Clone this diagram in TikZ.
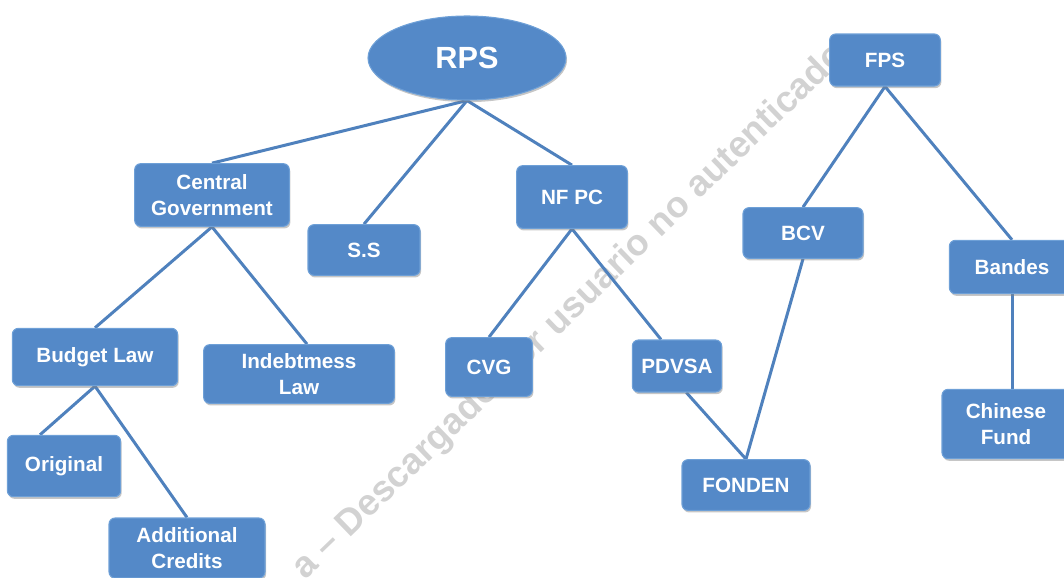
\documentclass[tikz,border=0pt]{standalone}
\usepackage{fontspec}
\setmainfont{Liberation Sans}
\usepackage{tikz}
\usetikzlibrary{shadows, shapes.geometric, backgrounds}
\definecolor{boxblue}{RGB}{84, 137, 200}
\definecolor{boxedge}{RGB}{110, 160, 215}
\definecolor{linkblue}{RGB}{79, 129, 189}
\definecolor{stamp}{RGB}{210, 210, 210}

\begin{document}
\begin{tikzpicture}[x=0.75pt, y=-0.75pt,
    unit/.style={draw=boxedge, fill=boxblue, rounded corners=4.5pt, line width=0.8pt,
      text=white, font=\fontsize{15.5}{19.5}\selectfont\bfseries, align=center,
      inner sep=0pt, drop shadow={shadow xshift=0.8pt, shadow yshift=-1.6pt, opacity=0.45}},
    link/.style={linkblue, line width=2.25pt}]
      \useasboundingbox (0,0) rectangle (1064,578);
      % Watermark behind the chart
      \begin{pgfonlayer}{background}
        \node[stamp, rotate=44, font=\fontsize{27.5}{33}\selectfont\bfseries] (mark) at (570,312)
          {a -- Descargado por usuario no autenticado};
      \end{pgfonlayer}
      % Root of the tree
      \node[ellipse, draw=boxedge, fill=boxblue, line width=0.8pt, text=white,
        font=\fontsize{23}{28}\selectfont\bfseries, minimum width=148.5pt, minimum height=63pt,
        drop shadow={shadow xshift=0.8pt, shadow yshift=-1.6pt, opacity=0.45}] (rps) at (467,58) {RPS};
      % Second level
      \node[unit, minimum width=116pt, minimum height=47pt] (cg) at (212,195) {Central\\Government};
      \node[unit, minimum width=84pt, minimum height=38pt] (ss) at (364,250) {S.S};
      \node[unit, minimum width=83pt, minimum height=47pt] (nfpc) at (572,197) {NF PC};
      % Under Central Government
      \node[unit, minimum width=124pt, minimum height=43pt] (budget) at (95,357) {Budget Law};
      \node[unit, minimum width=143pt, minimum height=44pt] (debt) at (299,374) {Indebtmess\\Law};
      \node[unit, minimum width=85pt, minimum height=46pt] (orig) at (64,466) {Original};
      \node[unit, minimum width=117pt, minimum height=45pt] (addc) at (187,548) {Additional\\Credits};
      % Under NF PC
      \node[unit, minimum width=65pt, minimum height=44pt] (cvg) at (489,367) {CVG};
      \node[unit, minimum width=67pt, minimum height=39pt] (pdvsa) at (677,366) {PDVSA};
      \node[unit, minimum width=96pt, minimum height=38pt] (fonden) at (746,485) {FONDEN};
      % Second tree
      \node[unit, minimum width=83pt, minimum height=39pt] (fps) at (885,60) {FPS};
      \node[unit, minimum width=90pt, minimum height=38pt] (bcv) at (803,233) {BCV};
      \node[unit, minimum width=94pt, minimum height=40pt] (bandes) at (1012,267) {Bandes};
      \node[unit, minimum width=96pt, minimum height=52pt] (chinese) at (1006,424) {Chinese\\Fund};
      % Connectors, under the boxes
      \begin{pgfonlayer}{background}
        \draw[link] (rps.south) -- (cg.north);
        \draw[link] (rps.south) -- (ss.north);
        \draw[link] (rps.south) -- (nfpc.north);
        \draw[link] (cg.south) -- (budget.north);
        \draw[link] (cg.south) -- ([xshift=6pt]debt.north);
        \draw[link] (budget.south) -- ([xshift=-18pt]orig.north);
        \draw[link] (budget.south) -- (addc.north);
        \draw[link] (nfpc.south) -- (cvg.north);
        \draw[link] (nfpc.south) -- ([xshift=-12pt]pdvsa.north);
        \draw[link] ([xshift=7pt]pdvsa.south) -- (fonden.north);
        \draw[link] (bcv.south) -- (fonden.north);
        \draw[link] (fps.south) -- (bcv.north);
        \draw[link] (fps.south) -- (bandes.north);
        \draw[link] (bandes.south) -- (chinese.north -| bandes.south);
      \end{pgfonlayer}
    \end{tikzpicture}
\end{document}
